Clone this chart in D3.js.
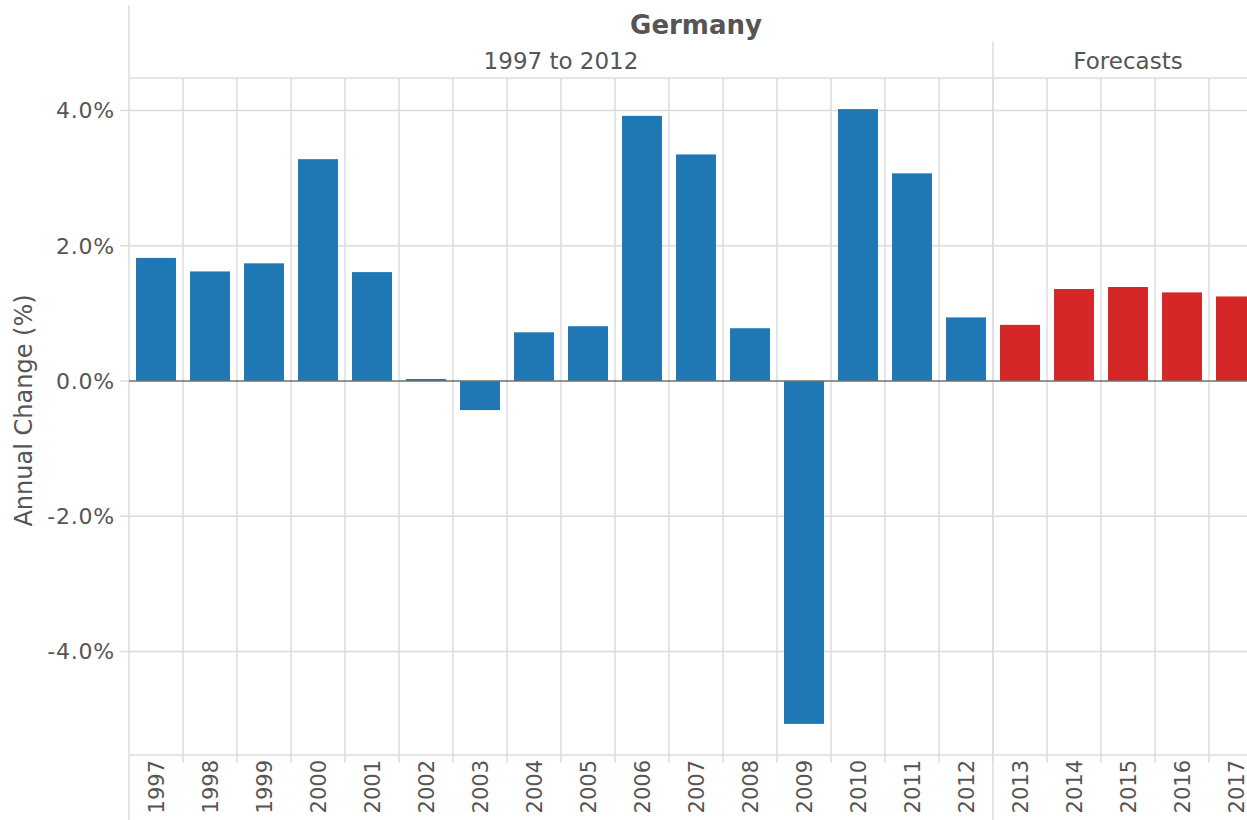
<!DOCTYPE html>
<html><head><meta charset="utf-8">
<script src="https://cdn.jsdelivr.net/npm/d3@7"></script>
<style>body{margin:0;background:#fff}svg{display:block}text{font-family:"DejaVu Sans",Verdana,sans-serif;fill:#555}</style>
</head><body><div id="chart"></div>
<script>
const years = ["1997","1998","1999","2000","2001","2002","2003","2004","2005","2006","2007","2008","2009","2010","2011","2012","2013","2014","2015","2016","2017"];
const values = [1.82,1.62,1.74,3.28,1.61,0.03,-0.43,0.72,0.81,3.92,3.35,0.78,-5.07,4.02,3.07,0.94,0.83,1.36,1.39,1.31,1.25];
const groups = ["Historical","Historical","Historical","Historical","Historical","Historical","Historical","Historical","Historical","Historical","Historical","Historical","Historical","Historical","Historical","Historical","Forecast","Forecast","Forecast","Forecast","Forecast"];
const yTicks = [4,2,0,-2,-4];
const title = "Germany";
const headerLabels = ["1997 to 2012","Forecasts"];
const yLabel = "Annual Change (%)";

(function(){
const W = 1247, H = 820;
const pL = 129, pR = 1263, pT = 78, pB = 755;
const svg = d3.select("#chart").append("svg").attr("width", W).attr("height", H);

const x = d3.scaleBand().domain(years).range([pL, pR]).paddingInner(0.26).paddingOuter(0.13);
const step = x.step();
const colX = d => x(d) - step * 0.13;
const y = d3.scaleLinear().domain([-5.53, 4.48]).range([pB, pT]);
const color = d3.scaleOrdinal().domain(["Historical","Forecast"]).range(["#1f77b4","#d62728"]);
const grid = "#dcdcdc";

svg.append("g").selectAll("line").data(yTicks.filter(t => t !== 0)).join("line")
  .attr("x1", pL).attr("x2", W).attr("y1", d => y(d)).attr("y2", d => y(d))
  .attr("stroke", grid).attr("stroke-width", 1.5);
svg.append("g").selectAll("line").data(years.slice(1)).join("line")
  .attr("x1", d => colX(d)).attr("x2", d => colX(d)).attr("y1", pT).attr("y2", pB + 8)
  .attr("stroke", grid).attr("stroke-width", 1.5);
svg.append("line").attr("x1", pL).attr("x2", W).attr("y1", pT).attr("y2", pT).attr("stroke", grid).attr("stroke-width", 1.5);
svg.append("line").attr("x1", pL).attr("x2", W).attr("y1", pB).attr("y2", pB).attr("stroke", grid).attr("stroke-width", 1.5);
svg.append("line").attr("x1", pL).attr("x2", pL).attr("y1", 5).attr("y2", H).attr("stroke", grid).attr("stroke-width", 1.5);
const divX = colX("2013");
svg.append("line").attr("x1", divX).attr("x2", divX).attr("y1", 42).attr("y2", H).attr("stroke", grid).attr("stroke-width", 1.5);

svg.append("g").selectAll("rect").data(years).join("rect")
  .attr("x", d => x(d)).attr("width", x.bandwidth())
  .attr("y", (d,i) => y(Math.max(0, values[i])))
  .attr("height", (d,i) => Math.abs(y(values[i]) - y(0)))
  .attr("fill", (d,i) => color(groups[i]));

svg.append("line").attr("x1", pL).attr("x2", W).attr("y1", y(0)).attr("y2", y(0)).attr("stroke", "#6f6f6f").attr("stroke-width", 1.5);

const yAxis = svg.append("g");
yAxis.selectAll("line").data(yTicks).join("line")
  .attr("x1", pL - 9).attr("x2", pL).attr("y1", d => y(d)).attr("y2", d => y(d))
  .attr("stroke", grid).attr("stroke-width", 1.5);
yAxis.selectAll("text").data(yTicks).join("text")
  .attr("x", pL - 14).attr("y", d => y(d)).attr("dy", "0.36em")
  .attr("text-anchor", "end").style("font-size", "22px").style("letter-spacing", "0.8px")
  .text(d => (d < 0 ? "-" : "") + d3.format(".1f")(Math.abs(d)) + "%");
svg.append("text").attr("transform", `translate(32,410.5) rotate(-90)`)
  .attr("text-anchor", "middle").style("font-size", "24px").text(yLabel);

svg.append("g").selectAll("text").data(years).join("text")
  .attr("transform", d => `translate(${x(d) + x.bandwidth()/2},${pB + 5}) rotate(-90)`)
  .attr("dy", "0.36em").attr("text-anchor", "end")
  .style("font-size", "21px").text(d => d);

svg.append("text").attr("x", (pL + pR)/2).attr("y", 33.5).attr("text-anchor", "middle")
  .style("font-size", "26px").style("font-weight", "bold").text(title);
const hdr = [[pL, divX], [divX, pR]];
svg.append("g").selectAll("text").data(headerLabels).join("text")
  .attr("x", (d,i) => (hdr[i][0] + hdr[i][1]) / 2).attr("y", 69).attr("text-anchor", "middle")
  .style("font-size", "23px").text(d => d);
})();
</script></body></html>
